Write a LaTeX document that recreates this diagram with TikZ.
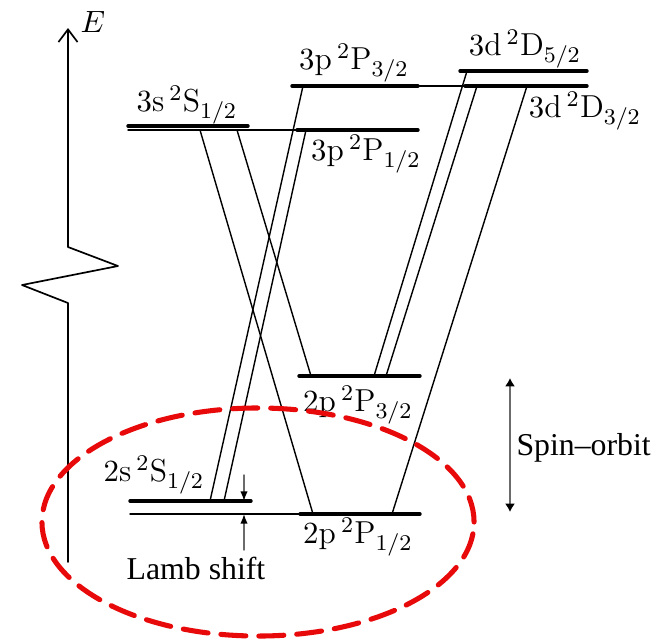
\documentclass[tikz,border=0pt]{standalone}
\usepackage{fontspec}
\newfontfamily\timesfont[Ligatures=TeX]{Liberation Serif}
\usetikzlibrary{arrows.meta}
\definecolor{gray}{HTML}{6B6B6B}
\definecolor{ovalred}{HTML}{E80A0A}
\tikzset{
  every picture/.style={
    line join=round,
    line cap=round,
    >=Stealth,
  },
  lvl/.style={line width=1.2pt},
  refline/.style={line width=0.5pt},
  trans/.style={line width=0.5pt},
  lbl/.style={font=\fontsize{11.3}{13.6}\selectfont, inner sep=0pt},
  txt/.style={font=\timesfont\fontsize{11.3}{13.6}\selectfont, inner sep=0pt},
  gap/.style={gray, line width=0.5pt, -{Latex[black,length=3.4pt,width=2.6pt]}},
}

\begin{document}
\begin{tikzpicture}[x=0.0125cm, y=-0.0125cm]
    \useasboundingbox (0,0) rectangle (659,642);

    % Energy axis with a break
    \coordinate (Ebot) at (68,562);
    \coordinate (Etop) at (68,28);
    \draw[line width=0.6pt, -{Straight Barb[length=4.5pt,width=6.8pt]}]
        (Ebot) -- (68,303) -- (22,285) -- (118,266) -- (68,247) -- (Etop);
    \node[lbl] (Elab) at (93,22) {$E$};

    % n=3 levels
    \draw[lvl] (128,126) coordinate (s3l) -- (248,126) coordinate (s3r);
    \draw[refline] (128,130) -- (300,130);
    \draw[lvl] (297,130) coordinate (p31l) -- (418,130) coordinate (p31r);
    \draw[lvl] (292,86) coordinate (p33l) -- (418,86) coordinate (p33r);
    \draw[refline] (p33r) -- (465,86);
    \draw[lvl] (465,86) coordinate (d33l) -- (587,86) coordinate (d33r);
    \draw[lvl] (460,71) coordinate (d35l) -- (587,71) coordinate (d35r);

    % n=2 levels
    \draw[lvl] (130,501) coordinate (s2l) -- (251,501) coordinate (s2r);
    \draw[refline] (130,514) -- (300,514);
    \draw[lvl] (300,514) coordinate (p21l) -- (420,514) coordinate (p21r);
    \draw[lvl] (299,376) coordinate (p23l) -- (420,376) coordinate (p23r);

    % transition end points
    \coordinate (tA) at (200,130);  \coordinate (tA') at (313,514);
    \coordinate (tB) at (237,130);  \coordinate (tB') at (311,376);
    \coordinate (tC) at (303,86);   \coordinate (tC') at (210,501);
    \coordinate (tD) at (306,130);  \coordinate (tD') at (224,501);
    \coordinate (tE) at (467,71);   \coordinate (tE') at (374,376);
    \coordinate (tF) at (477,86);   \coordinate (tF') at (386,376);
    \coordinate (tG) at (527,86);   \coordinate (tG') at (392,514);

    % transitions
    \foreach \t in {A,B,C,D,E,F,G}
        \draw[trans] (t\t) -- (t\t');

    % level labels
    \node[lbl] (l3s) at (187,105) {$3\mathrm{s}\,{}^2\mathrm{S}_{1/2}$};
    \node[lbl] (l3p3) at (354,63) {$3\mathrm{p}\,{}^2\mathrm{P}_{3/2}$};
    \node[lbl] (l3p1) at (366,154) {$3\mathrm{p}\,{}^2\mathrm{P}_{1/2}$};
    \node[lbl] (l3d5) at (525,49) {$3\mathrm{d}\,{}^2\mathrm{D}_{5/2}$};
    \node[lbl] (l3d3) at (585,111) {$3\mathrm{d}\,{}^2\mathrm{D}_{3/2}$};
    \node[lbl] (l2p3) at (358,405) {$2\mathrm{p}\,{}^2\mathrm{P}_{3/2}$};
    \node[lbl] (l2s) at (154,475) {$2\mathrm{s}\,{}^2\mathrm{S}_{1/2}$};
    \node[lbl] (l2p1) at (358,537) {$2\mathrm{p}\,{}^2\mathrm{P}_{1/2}$};

    % Lamb shift
    \coordinate (lsA) at (244,475);
    \coordinate (lsB) at (244,550);
    \draw[gap] (lsA) -- (244,501);
    \draw[gap] (lsB) -- (244,514);
    \node[txt] (lamb) at (196,568) {Lamb shift};

    % Spin-orbit
    \coordinate (soT) at (510,378);
    \coordinate (soB) at (510,512);
    \draw[gray, line width=0.55pt, {Latex[black,length=3pt,width=3.6pt]}-{Latex[black,length=3pt,width=3.6pt]}] (soT) -- (soB);
    \node[txt, anchor=west] (spin) at (516,448) {Spin--orbit};

    % highlight
    \draw[ovalred, line width=1.8pt, dash pattern=on 8.9pt off 4.6pt]
        (258,522) ellipse [x radius=2.7cm, y radius=1.425cm];
\end{tikzpicture}
\end{document}
